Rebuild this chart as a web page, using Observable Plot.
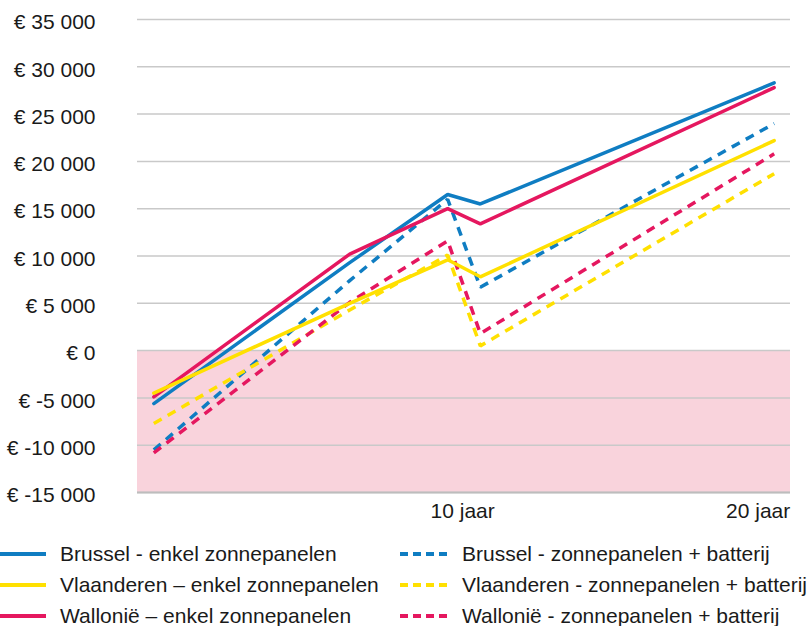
<!DOCTYPE html>
<html>
<head>
<meta charset="utf-8">
<script src="https://cdn.jsdelivr.net/npm/d3@7"></script>
<script src="https://cdn.jsdelivr.net/npm/@observablehq/plot@0.6"></script>
<style>
  html, body { margin: 0; padding: 0; background: #fff; }
  body { width: 809px; font-family: "Liberation Sans", Arial, sans-serif; color: #1a1a1a; }
  #legend { display: grid; grid-template-columns: 400px 409px; grid-auto-rows: 31px; padding-top: 8px; }
  .item { display: flex; align-items: center; font-size: 21px; white-space: nowrap; }
  .item svg { flex: none; }
</style>
</head>
<body>
<div id="chart"></div>
<div id="legend"></div>
<script>
// ---- data ----
const years = [1, 7, 10, 11, 20];
const brusselSolar = [-5600, 9300, 16500, 15500, 28300];
const vlaanderenSolar = [-4500, 5000, 9600, 7800, 22200];
const walloniaSolar = [-4900, 10200, 15000, 13400, 27800];
const brusselBattery = [-10500, 7400, 16000, 6700, 24000];
const vlaanderenBattery = [-7700, 4300, 10100, 500, 18700];
const walloniaBattery = [-10800, 5100, 11600, 1800, 20800];

const solidNames = ["Brussel - enkel zonnepanelen", "Vlaanderen – enkel zonnepanelen", "Wallonië – enkel zonnepanelen"];
const dashedNames = ["Brussel - zonnepanelen + batterij", "Vlaanderen - zonnepanelen + batterij", "Wallonië - zonnepanelen + batterij"];
const solidValues = [brusselSolar, vlaanderenSolar, walloniaSolar];
const dashedValues = [brusselBattery, vlaanderenBattery, walloniaBattery];
const colors = ["#0f7dc2", "#ffe000", "#e5175f"];

const yTicks = [-15000, -10000, -5000, 0, 5000, 10000, 15000, 20000, 25000, 30000, 35000];
const xTicks = [10, 20];
const xTickLabels = ["10 jaar", "20 jaar"];
const lossZone = [{from: -15000, to: 0}];

// ---- build tables ----
const toRows = (names, values) => names.flatMap((name, i) =>
  years.map((year, j) => ({series: name, idx: i, year, value: values[i][j]})));
const solidRows = toRows(solidNames, solidValues);
const dashedRows = toRows(dashedNames, dashedValues);

const euro = v => "€ " + (v < 0 ? "-" : "") + d3.format(",")(Math.abs(v)).replace(/,/g, " ");

// draw order: dashed first, then solids (blue, pink, yellow)
const dashedOrder = [0, 1, 2];
const solidOrder = [0, 2, 1];

const chart = Plot.plot({
  width: 809,
  height: 530,
  marginLeft: 137,
  marginRight: 19,
  marginTop: 19,
  marginBottom: 38,
  x: {domain: [0.5, 20.5]},
  y: {domain: [-15000, 35000]},
  color: {domain: [...solidNames, ...dashedNames], range: [...colors, ...colors]},
  style: {fontFamily: "Liberation Sans, Arial, sans-serif", fontSize: "21px", color: "#1a1a1a", background: "#fff"},
  marks: [
    Plot.rectY(lossZone, {y1: "from", y2: "to", fill: "#f9d3dc"}),
    Plot.ruleY(yTicks, {stroke: "#c9c9c9", strokeWidth: 1.5}),
    Plot.ruleY([yTicks[0]], {stroke: "#bdbdbd", strokeWidth: 2}),
    ...dashedOrder.map(i => Plot.line(dashedRows.filter(d => d.idx === i), {
      x: "year", y: "value", stroke: "series", strokeWidth: 3.5, strokeDasharray: "9,7", strokeLinejoin: "miter", strokeLinecap: "butt"
    })),
    ...solidOrder.map(i => Plot.line(solidRows.filter(d => d.idx === i), {
      x: "year", y: "value", stroke: "series", strokeWidth: 3.5, strokeLinejoin: "miter"
    })),
    Plot.axisY(yTicks, {tickSize: 0, tickPadding: 42, tickFormat: euro, label: null, fontSize: 21, dy: 3}),
    Plot.axisX([xTicks[0]], {tickSize: 0, tickPadding: 11, tickFormat: () => xTickLabels[0], label: null, dx: 15, fontSize: 21}),
    Plot.axisX([xTicks[1]], {tickSize: 0, tickPadding: 11, tickFormat: () => xTickLabels[1], label: null, dx: -16, fontSize: 21})
  ]
});
document.getElementById("chart").appendChild(chart);

// ---- legend ----
const legend = document.getElementById("legend");
for (let r = 0; r < 3; r++) {
  const pairs = [[solidNames[r], colors[r], false], [dashedNames[r], colors[r], true]];
  pairs.forEach(([name, color, dashed]) => {
    const item = document.createElement("div");
    item.className = "item";
    const w = dashed ? 50 : 46;
    const gap = dashed ? 12 : 14;
    item.innerHTML = `<svg width="${w}" height="10" style="margin-right:${gap}px"><line x1="0" x2="${w}" y1="5" y2="5" stroke="${color}" stroke-width="4" ${dashed ? 'stroke-dasharray="8,5"' : ''}/></svg><span>${name}</span>`;
    legend.appendChild(item);
  });
}
</script>
</body>
</html>
